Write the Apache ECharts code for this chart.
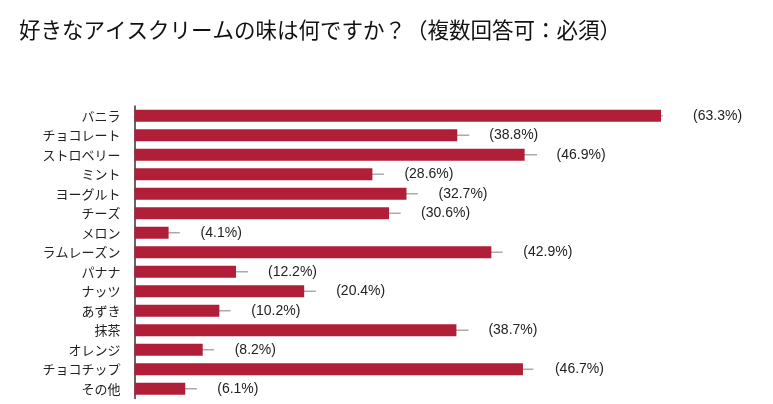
<!DOCTYPE html>
<html>
<head>
<meta charset="utf-8">
<script src="https://cdn.jsdelivr.net/npm/echarts@6/dist/echarts.min.js"></script>
<style>
html,body{margin:0;padding:0;background:#fff;}
#chart{width:773px;height:404px;}
</style>
</head>
<body>
<div id="chart"></div>
<script>
const title = '好きなアイスクリームの味は何ですか？（複数回答可：必須）';
const categories = ['バニラ','チョコレート','ストロベリー','ミント','ヨーグルト','チーズ','メロン','ラムレーズン','パナナ','ナッツ','あずき','抹茶','オレンジ','チョコチップ','その他'];
const values = [63.3, 38.8, 46.9, 28.6, 32.7, 30.6, 4.1, 42.9, 12.2, 20.4, 10.2, 38.7, 8.2, 46.7, 6.1];
const errors = [0.2, 1.45, 1.5, 1.4, 1.35, 1.4, 1.35, 1.35, 1.45, 1.4, 1.35, 1.45, 1.35, 1.25, 1.4];

const errData = values.map((v, i) => [v, i, errors[i]]);

const chart = echarts.init(document.getElementById('chart'));
chart.setOption({
  animation: false,
  backgroundColor: '#fff',
  title: {
    text: title,
    left: 14,
    top: 14,
    textStyle: {
      fontFamily: 'Noto Sans CJK JP',
      fontSize: 21.5,
      fontWeight: 'normal',
      color: '#111'
    }
  },
  grid: {
    left: 134.5,
    right: 14.65,
    top: 106,
    bottom: 5.5,
    containLabel: false
  },
  xAxis: {
    type: 'value',
    min: 0,
    max: 75,
    show: false
  },
  yAxis: {
    type: 'category',
    data: categories,
    inverse: true,
    axisTick: { show: false },
    axisLine: { lineStyle: { color: '#333', width: 1.5 } },
    axisLabel: {
      margin: 14,
      fontFamily: 'Noto Sans CJK JP',
      fontSize: 13,
      color: '#222'
    }
  },
  series: [
    {
      type: 'custom',
      z: 1,
      data: errData,
      encode: { x: 0, y: 1 },
      renderItem: function (params, api) {
        const s = api.coord([api.value(0), api.value(1)]);
        const e = api.coord([api.value(0) + api.value(2), api.value(1)]);
        return {
          type: 'line',
          shape: { x1: s[0] - 3, y1: s[1], x2: e[0], y2: e[1] },
          style: { stroke: '#aaa', lineWidth: 1.5 }
        };
      }
    },
    {
      type: 'bar',
      z: 2,
      data: values,
      barWidth: 12,
      itemStyle: { color: '#b01f37' },
      label: {
        show: true,
        position: 'right',
        distance: 32,
        fontFamily: 'Liberation Sans',
        fontSize: 14,
        color: '#222',
        formatter: p => '(' + p.value.toFixed(1) + '%)'
      }
    }
  ]
});
</script>
</body>
</html>
